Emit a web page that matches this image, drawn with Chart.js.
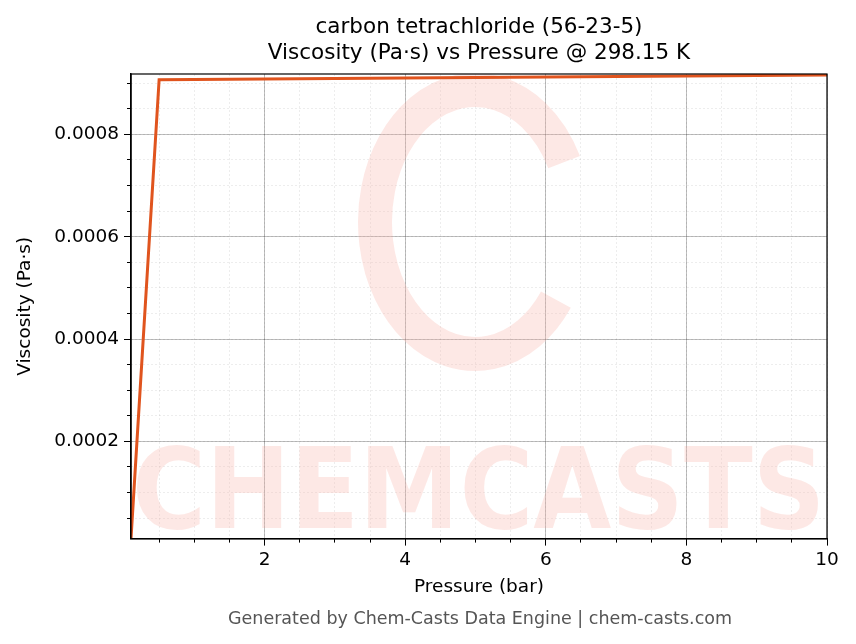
<!DOCTYPE html>
<html><head><meta charset="utf-8">
<script src="https://cdn.jsdelivr.net/npm/chart.js@4"></script>
<style>html,body{margin:0;background:#fff}#wrap{width:856px;height:644px}</style>
</head><body><div id="wrap"><canvas id="c" width="856" height="644"></canvas></div>
<script>
const pressure = [0.1, 0.5, 10];
const viscosity = [0.00001, 0.000907, 0.000916];
const xMin = 0.1, xMax = 10, yMin = 0.00001, yMax = 0.000918;
const titleLines = ['carbon tetrachloride (56-23-5)', 'Viscosity (Pa·s) vs Pressure @ 298.15 K'];

const watermark = {
  id: 'watermark',
  beforeDatasetsDraw(chart) {
    const {ctx, chartArea: a} = chart;
    ctx.save();
    ctx.beginPath();
    ctx.rect(a.left, a.top, a.right - a.left, a.bottom - a.top);
    ctx.clip();
    ctx.strokeStyle = 'rgba(250,180,170,0.3)';
    ctx.lineWidth = 34;
    ctx.beginPath();
    ctx.ellipse(475, 222, 100, 132, 0, 0.2 * Math.PI, 1.85 * Math.PI);
    ctx.stroke();
    ctx.fillStyle = 'rgba(250,180,170,0.3)';
    ctx.font = 'bold 112px "DejaVu Sans Condensed"';
    ctx.textBaseline = 'alphabetic';
    ctx.fillText('CHEMCASTS', 132, 528);
    ctx.restore();
  }
};

const texts = {
  id: 'texts',
  afterDraw(chart) {
    const {ctx, chartArea: a} = chart;
    const cx = (a.left + a.right) / 2;
    ctx.save();
    ctx.textAlign = 'center';
    ctx.textBaseline = 'middle';
    ctx.fillStyle = '#000';
    ctx.font = '21.5px "DejaVu Sans"';
    ctx.fillText(titleLines[0], cx, 27);
    ctx.fillText(titleLines[1], cx, 53);
    ctx.fillStyle = '#555';
    ctx.font = '17.5px "DejaVu Sans"';
    ctx.fillText('Generated by Chem-Casts Data Engine | chem-casts.com', 480, 619);
    ctx.restore();
  }
};

const tickFont = {family: 'DejaVu Sans', size: 18.5};
function minorAxis(axis, min, max, step) {
  return {
    type: 'linear', axis: axis, min: min, max: max,
    position: axis === 'x' ? 'bottom' : 'left',
    afterBuildTicks: s => {
      const t = [];
      for (let v = Math.ceil(min / step) * step; v <= max + 1e-12; v += step) t.push({value: v});
      s.ticks = t;
    },
    ticks: {display: false},
    grid: {color: 'rgba(0,0,0,0.12)', lineWidth: 0.6, tickLength: 4, tickColor: '#000', tickWidth: 1},
    border: {display: false, dash: [2, 2]},
    afterFit: s => { if (axis === 'x') s.height = 0; else s.width = 0; }
  };
}

new Chart(document.getElementById('c'), {
  type: 'line',
  data: {
    datasets: [{
      data: pressure.map((p, i) => ({x: p, y: viscosity[i]})),
      borderColor: '#e0541e', borderWidth: 3, pointRadius: 0, tension: 0
    }]
  },
  options: {
    responsive: false, animation: false,
    layout: {padding: {left: 10, right: 29, top: 74, bottom: 44}},
    plugins: {legend: {display: false}, tooltip: {enabled: false}, title: {display: false}},
    scales: {
      x2: minorAxis('x', xMin, xMax, 0.5),
      y2: minorAxis('y', yMin, yMax, 0.00005),
      x: {
        type: 'linear', min: xMin, max: xMax, position: 'bottom',
        afterBuildTicks: s => { s.ticks = [2, 4, 6, 8, 10].map(v => ({value: v})); },
        ticks: {color: '#000', font: tickFont, padding: 3, maxRotation: 0},
        grid: {color: 'rgba(0,0,0,0.25)', lineWidth: 1, tickLength: 7, tickColor: '#000'},
        border: {color: '#000', width: 1.5},
        title: {display: true, text: 'Pressure (bar)', color: '#000', font: tickFont, padding: 2}
      },
      y: {
        type: 'linear', min: yMin, max: yMax, position: 'left',
        afterBuildTicks: s => { s.ticks = [0.0002, 0.0004, 0.0006, 0.0008].map(v => ({value: v})); },
        ticks: {color: '#000', font: tickFont, padding: 5, callback: v => v.toFixed(4)},
        grid: {color: 'rgba(0,0,0,0.25)', lineWidth: 1, tickLength: 7, tickColor: '#000'},
        border: {color: '#000', width: 1.5},
        title: {display: true, text: 'Viscosity (Pa·s)', color: '#000', font: tickFont, padding: 4},
        afterFit: s => { s.width = 121; }
      }
    }
  },
  plugins: [watermark, texts, {
    id: 'frame',
    afterDraw(chart) {
      const {ctx, chartArea: a} = chart;
      ctx.save(); ctx.strokeStyle = '#000'; ctx.lineWidth = 1.2;
      ctx.strokeRect(a.left, a.top, a.right - a.left, a.bottom - a.top);
      ctx.restore();
    }
  }]
});
</script></body></html>
